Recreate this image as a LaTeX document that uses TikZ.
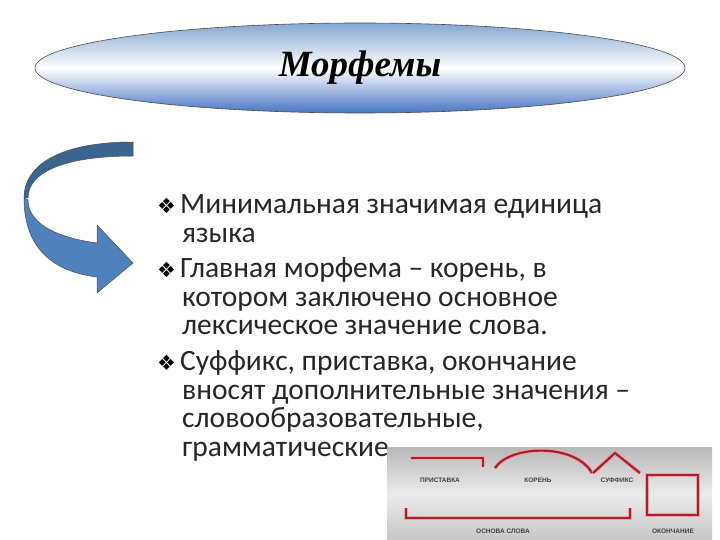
\documentclass[tikz,border=0pt]{standalone}
\usepackage{fontspec}
\setmainfont{Carlito}
\newfontfamily\djv{DejaVu Sans}
\newfontfamily\ttl{Liberation Serif}
\newfontfamily\lsans{Liberation Sans}
\usetikzlibrary{shapes.geometric}
\definecolor{arrowblue}{HTML}{4F81BD}
\definecolor{arrowdark}{HTML}{3B6591}
\definecolor{mred}{HTML}{A8202C}
\definecolor{mglow}{HTML}{F2A0A8}
\tikzset{
  body/.style={anchor=base west,font=\fontsize{29.5}{32}\selectfont,inner sep=0pt,text=black!85},
  blt/.style={anchor=base west,font=\djv\fontsize{21}{22}\selectfont,inner sep=0pt},
  lbl/.style={font=\lsans\bfseries\fontsize{6.5}{8}\selectfont,text=black!75,inner sep=0pt},
  mline/.style={draw=mred,line width=2.2pt,preaction={draw=mglow,line width=4pt}},
}
\begin{document}
\begin{tikzpicture}[x=1pt,y=-1pt]
\useasboundingbox (0,0) rectangle (720,540);
% title ellipse
\node[ellipse,draw=black!70,line width=0.6pt,minimum width=650,minimum height=90,
  top color=arrowblue!70,bottom color=arrowblue!90!blue,middle color=white,shading angle=0] (title) at (360,68) {};
\node[font=\ttl\bfseries\itshape\fontsize{37}{40}\selectfont] (tt) at (360,68) {Морфемы};
% curved arrow
\filldraw[fill=arrowdark,draw=black!70,line width=0.5pt] (133,142) .. controls (60,142) and (24,165) .. (24,198)
  -- (28,198) .. controls (28,170) and (70,156) .. (133,156) -- cycle;
\filldraw[fill=arrowblue,draw=black!70,line width=0.5pt] (28,200) .. controls (28,225) and (60,238) .. (97,243)
  -- (97,225) -- (133,263) -- (97,293) -- (97,277) .. controls (55,272) and (24,250) .. (24,198) -- cycle;
% bullets and text
\node[blt] (b1) at (157,214) {❖};
\node[body] (l1) at (180,214) {Минимальная значимая единица};
\node[body] (l2) at (182,242) {языка};
\node[blt] (b2) at (157,277) {❖};
\node[body] (l3) at (180,277) {Главная морфема – корень, в};
\node[body] (l4) at (182,306) {котором заключено основное};
\node[body] (l5) at (182,334) {лексическое значение слова.};
\node[blt] (b3) at (157,370) {❖};
\node[body] (l6) at (180,370) {Суффикс, приставка, окончание};
\node[body] (l7) at (182,399) {вносят дополнительные значения –};
\node[body] (l8) at (182,427) {словообразовательные,};
\node[body] (l9) at (182,456) {грамматические.};
% morpheme picture
\shade[top color=black!28,bottom color=black!22,middle color=black!8] (387,447) rectangle (712,540);
\draw[mline] (411,458) -- (483,458) -- (483,467);
\draw[mline] (495,468) .. controls (510,445) and (575,443) .. (592,473);
\draw[mline] (593,473) -- (615,453) -- (640,473);
\draw[mline] (647,475) rectangle (698,515);
\draw[mline] (406,508) -- (406,518) -- (630,518) -- (630,508);
\node[lbl] (p) at (440,480) {ПРИСТАВКА};
\node[lbl] (k) at (538,480) {КОРЕНЬ};
\node[lbl] (s) at (617,480) {СУФФИКС};
\node[lbl] (o) at (503,531) {ОСНОВА СЛОВА};
\node[lbl] (e) at (673,531) {ОКОНЧАНИЕ};
\end{tikzpicture}
\end{document}
